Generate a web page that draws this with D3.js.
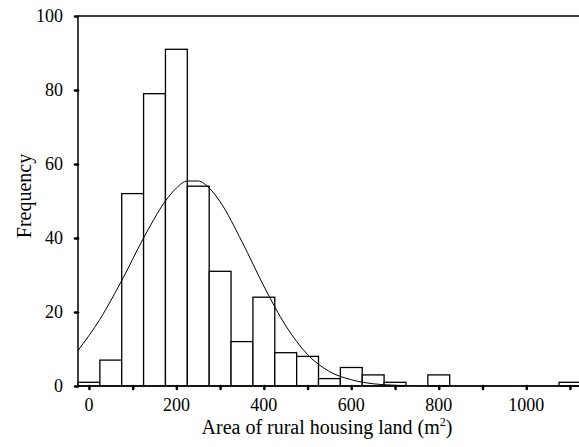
<!DOCTYPE html>
<html>
<head>
<meta charset="utf-8">
<script src="https://cdn.jsdelivr.net/npm/d3@7"></script>
<style>
	body { margin: 0; background: #fff; }
	svg { display: block; }
	text { font-family: "Liberation Serif", "Times New Roman", serif; fill: #000; }
</style>
</head>
<body>
<script>
// histogram bins (centre of each 50 m2 bin) and counts
const binCentres = [0, 50, 100, 150, 200, 250, 300, 350, 400, 450, 500, 550, 600, 650, 700, 750, 800, 850, 900, 950, 1000, 1050, 1100];
const counts     = [1, 7, 52, 79, 91, 54, 31, 12, 24, 9, 8, 2, 5, 3, 1, 0, 3, 0, 0, 0, 0, 0, 1];
const binWidth = 50;

// fitted normal curve
const curveX = [-25, 25, 75, 125, 175, 200, 225, 250, 275, 300, 350, 400, 450, 500, 550, 600, 650, 700, 750, 800, 900, 1000, 1150];
const curveY = [9.6, 18, 28.5, 40, 50, 53.5, 55.4, 55.4, 53.5, 49.8, 39, 27, 16.3, 8.5, 3.9, 1.7, 0.6, 0.2, 0.05, 0, 0, 0, 0];

const xTicks = [0, 100, 200, 300, 400, 500, 600, 700, 800, 900, 1000, 1100];
const xTickLabels = [0, 200, 400, 600, 800, 1000];
const yTicks = [0, 20, 40, 60, 80, 100];

const width = 579, height = 447;
const margin = {top: 16, right: 0, bottom: 61, left: 78};

const svg = d3.select("body").append("svg")
	.attr("width", width)
	.attr("height", height);

// x domain chosen so that -25 sits on the left axis
let x = d3.scaleLinear().domain([-25, 1120.7]).range([margin.left, width]);
let y = d3.scaleLinear().domain([0, 100]).range([height - margin.bottom, margin.top]);

let plot = svg.append("g");

// bars
plot.selectAll("rect")
	.data(binCentres.map((c, i) => [c, counts[i]]).filter(d => d[1] > 0))
	.enter().append("rect")
	.attr("x", d => x(d[0] - binWidth / 2))
	.attr("y", d => y(d[1]))
	.attr("width", d => x(d[0] + binWidth / 2) - x(d[0] - binWidth / 2))
	.attr("height", d => y(0) - y(d[1]))
	.style("fill", "#fff")
	.style("stroke", "#000")
	.style("stroke-width", 1.3);

// normal curve
let line = d3.line()
	.x(d => x(d[0]))
	.y(d => y(d[1]))
	.curve(d3.curveMonotoneX);

plot.append("path")
	.datum(curveX.map((v, i) => [v, curveY[i]]))
	.attr("d", line)
	.style("fill", "none")
	.style("stroke", "#000")
	.style("stroke-width", 1);

// axes
let xAxis = svg.append("g")
	.attr("transform", "translate(0," + y(0) + ")")
	.call(d3.axisBottom(x).tickValues(xTicks).tickSize(3).tickFormat(""));
xAxis.select(".domain").attr("d", "M" + margin.left + ",0H" + width).style("stroke-width", 1.5);
xAxis.selectAll(".tick line").style("stroke-width", 2.5).attr("stroke-linecap", "round");

svg.append("g").selectAll("text")
	.data(xTickLabels)
	.enter().append("text")
	.attr("x", d => x(d))
	.attr("y", y(0) + 25)
	.attr("text-anchor", "middle")
	.style("font-size", "18px")
	.text(d => d);

let yAxis = svg.append("g")
	.attr("transform", "translate(" + margin.left + ",0)")
	.call(d3.axisLeft(y).tickValues(yTicks).tickSize(3).tickPadding(12));
yAxis.select(".domain").attr("d", "M0," + y(0) + "V" + y(100)).style("stroke-width", 1.5);
yAxis.selectAll(".tick line").style("stroke-width", 2.5).attr("stroke-linecap", "round");
yAxis.selectAll(".tick text")
	.style("font-size", "18px")
	.style("font-family", "'Liberation Serif', 'Times New Roman', serif");

// top frame line
svg.append("line")
	.attr("x1", margin.left).attr("x2", width)
	.attr("y1", y(100)).attr("y2", y(100))
	.style("stroke", "#000")
	.style("stroke-width", 1.5);

// axis titles
let xt = svg.append("text")
	.attr("x", 327)
	.attr("y", 434)
	.attr("text-anchor", "middle")
	.style("font-size", "20px");
xt.append("tspan").text("Area of rural housing land (m");
xt.append("tspan").attr("dy", -8).style("font-size", "12px").text("2");
xt.append("tspan").attr("dy", 8).text(")");

svg.append("text")
	.attr("transform", "translate(31,196) rotate(-90)")
	.attr("text-anchor", "middle")
	.style("font-size", "20px")
	.text("Frequency");
</script>
</body>
</html>
